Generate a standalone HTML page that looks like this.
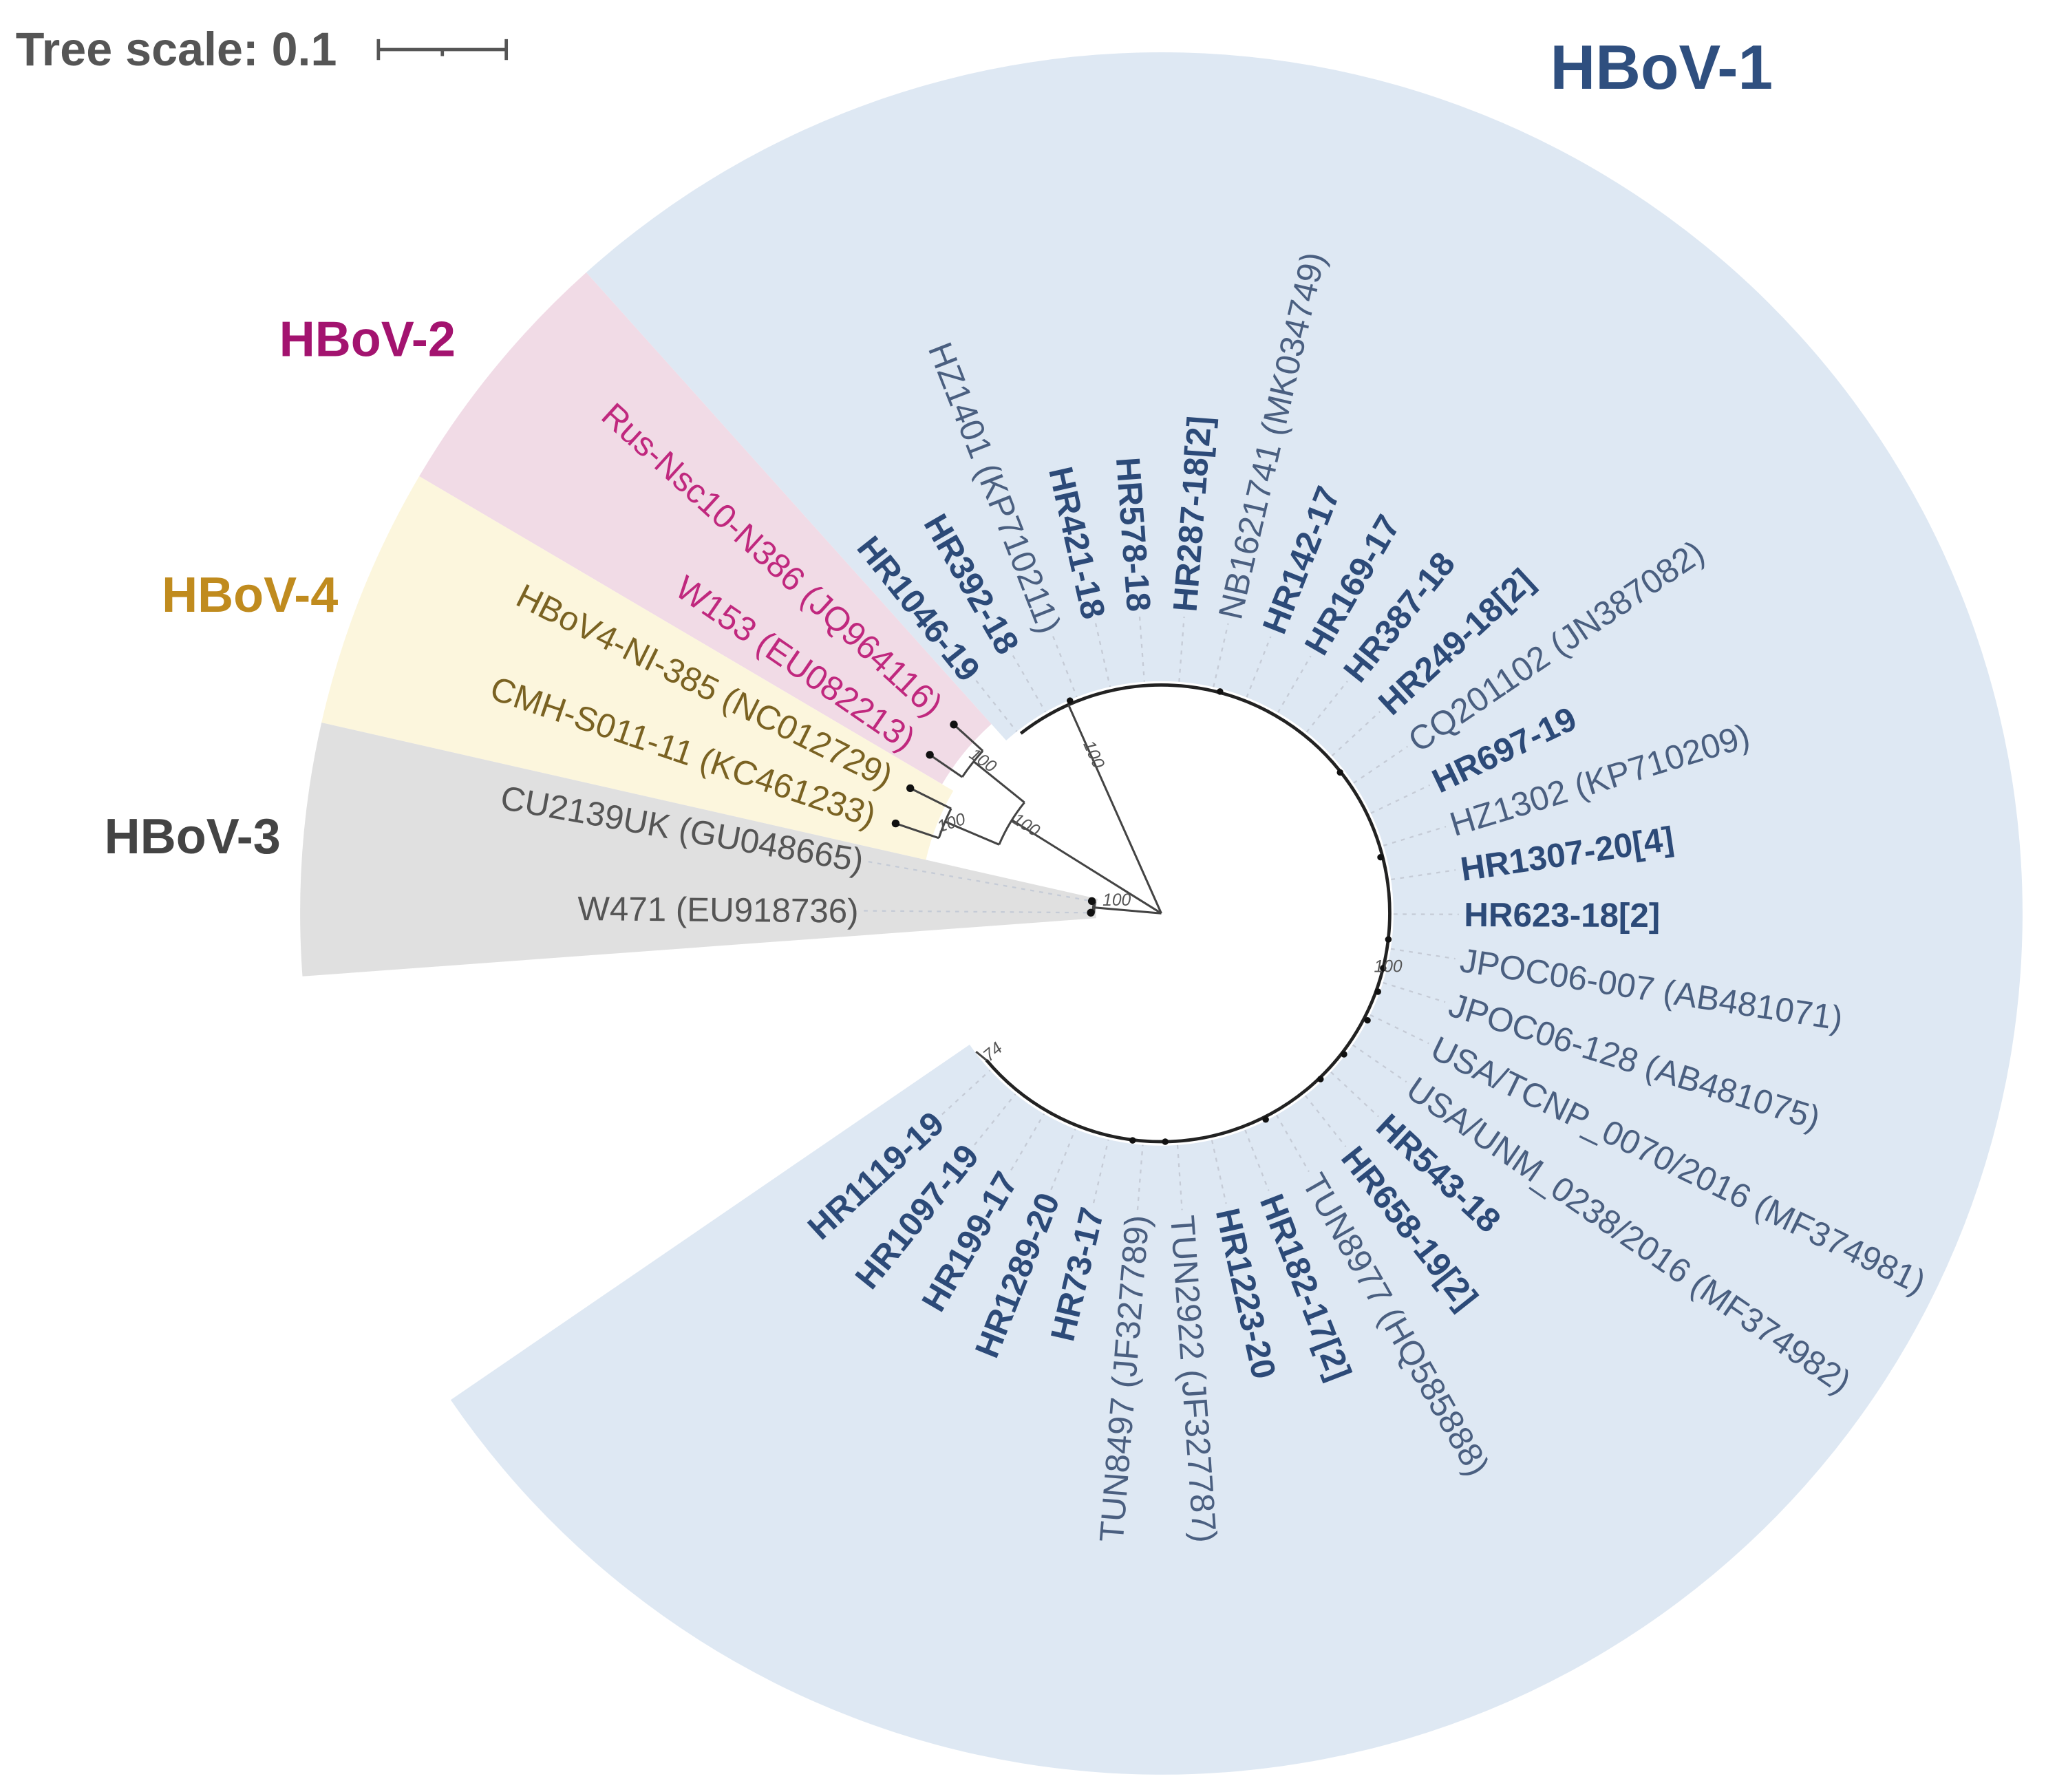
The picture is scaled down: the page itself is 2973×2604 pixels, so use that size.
<!DOCTYPE html>
<html><head><meta charset="utf-8"><style>
html,body{margin:0;padding:0;background:#fff;}
svg{display:block;}
text{font-family:"Liberation Sans",Arial,sans-serif;}
.b{fill:#2c4a78;font-weight:bold;font-size:26px;}
.n{fill:#4a5f80;font-size:26px;}
.p{fill:#c0287e;font-size:26px;}
.y{fill:#7a6222;font-size:26px;}
.g{fill:#555;font-size:26px;}
.d{stroke:#c5cbd6;stroke-width:1.2;stroke-dasharray:3 4;}
.bs{font-size:13px;fill:#555;font-style:italic;}
</style></head><body>
<svg width="2973" height="2604" viewBox="0 0 1568 1373.4" preserveAspectRatio="none" xmlns="http://www.w3.org/2000/svg">
<rect width="1568" height="1374" fill="#fff"/>
<path d="M449.3,208.8 A660,660 0 1 1 345.4,1072.9 L743.1,800.6 A178,178 0 1 0 771.1,567.5 Z" fill="#dee8f3"/>
<path d="M321.3,365 A660,660 0 0 1 449.3,208.8 L759.8,554.9 A195,195 0 0 0 722.0,601.0 Z" fill="#f1dbe6"/>
<path d="M246.4,553.8 A660,660 0 0 1 321.3,365 L730.6,606.1 A185,185 0 0 0 709.6,659.0 Z" fill="#fcf6dd"/>
<path d="M231.8,748.3 A660,660 0 0 1 246.4,553.8 L841.2,688.9 A50,50 0 0 0 840.1,703.7 Z" fill="#e0e0e0"/>

<text x="12" y="50" font-size="36" font-weight="bold" fill="#555">Tree scale: 0.1</text>
<g stroke="#555" stroke-width="2.5"><line x1="290" y1="38" x2="388" y2="38"/><line x1="290" y1="30" x2="290" y2="46"/><line x1="388" y1="30" x2="388" y2="46"/><line x1="339" y1="38" x2="339" y2="43"/></g>
<text x="1188" y="68" font-size="48" font-weight="bold" fill="#2f4f7f">HBoV-1</text>
<text x="214" y="273" font-size="38" font-weight="bold" fill="#a3136f">HBoV-2</text>
<text x="124" y="469" font-size="38" font-weight="bold" fill="#c08b1e">HBoV-4</text>
<text x="80" y="654" font-size="38" font-weight="bold" fill="#444">HBoV-3</text>

<g stroke="#444" stroke-width="1.6" fill="none">
<path d="M782.3,562.1 A175,175 0 1 1 756.0,812.5" stroke="#222" stroke-width="2.5"/>
<line x1="890" y1="700" x2="818.8" y2="540.1"/>
<line x1="890" y1="700" x2="775.5" y2="628.5"/>
<path d="M765.7,647.3 A135,135 0 0 1 785.1,615.0"/>
<line x1="785.1" y1="615.0" x2="746.2" y2="583.6"/>
<path d="M737.4,595.5 A185,185 0 0 1 753.2,575.5"/>
<line x1="737.4" y1="595.5" x2="712.6" y2="578.5"/>
<line x1="753.2" y1="575.5" x2="731.0" y2="555.3"/>
<line x1="765.7" y1="647.3" x2="724.3" y2="629.7"/>
<path d="M719.5,642.3 A180,180 0 0 1 728.9,619.7"/>
<line x1="719.5" y1="642.3" x2="686.4" y2="631.1"/>
<line x1="728.9" y1="619.7" x2="697.6" y2="604.1"/>
<line x1="890" y1="700" x2="838.2" y2="695.5"/>
<path d="M838.0,699.5 A52,52 0 0 1 838.8,691.0" stroke-width="2.5"/>
<line x1="756" y1="812.5" x2="748" y2="806"/>
</g>
<g fill="#111">
<circle cx="712.6" cy="578.5" r="3"/><circle cx="731.0" cy="555.3" r="3"/>
<circle cx="686.4" cy="631.1" r="3"/><circle cx="697.6" cy="604.1" r="3"/>
<circle cx="836.0" cy="699.5" r="3"/><circle cx="836.8" cy="690.6" r="3"/>
<circle cx="820" cy="537" r="2.5"/><circle cx="935" cy="530" r="2.5"/>
<circle cx="1027" cy="592" r="2.5"/><circle cx="1058" cy="657" r="2.5"/>
<circle cx="1064" cy="720" r="2.5"/><circle cx="1060" cy="742" r="2.5"/>
<circle cx="1056" cy="760" r="2.5"/><circle cx="1048" cy="782" r="2.5"/>
<circle cx="1030" cy="808" r="2.5"/><circle cx="1012" cy="827" r="2.5"/>
<circle cx="970" cy="858" r="2.5"/><circle cx="893" cy="875" r="2.5"/>
<circle cx="868" cy="874" r="2.5"/>
</g>
<text class="bs" transform="rotate(66 830 570)" x="830" y="570">100</text>
<text class="bs" transform="rotate(32 775 630)" x="775" y="630">100</text>
<text class="bs" transform="rotate(35 742 580)" x="742" y="580">100</text>
<text class="bs" transform="rotate(-18 720 638)" x="720" y="638">100</text>
<text class="bs" x="845" y="694">100</text>
<text class="bs" x="1053" y="745">100</text>
<text class="bs" transform="rotate(-40 758 814)" x="758" y="814">74</text>

<g transform="rotate(0.5 890 700)"><line class="d" x1="662" y1="700" x2="836" y2="700"/><text class="g" x="658" y="700" dy="0.35em" text-anchor="end">W471 (EU918736)</text></g>
<g transform="rotate(10 890 700)"><line class="d" x1="662" y1="700" x2="836" y2="700"/><text class="g" x="658" y="700" dy="0.35em" text-anchor="end">CU2139UK (GU048665)</text></g>
<g transform="rotate(18.7 890 700)"><text class="y" x="658" y="700" dy="0.35em" text-anchor="end">CMH-S011-11 (KC461233)</text></g>
<g transform="rotate(26.5 890 700)"><text class="y" x="658" y="700" dy="0.35em" text-anchor="end">HBoV4-NI-385 (NC012729)</text></g>
<g transform="rotate(34.4 890 700)"><text class="p" x="658" y="700" dy="0.35em" text-anchor="end">W153 (EU082213)</text></g>
<g transform="rotate(42.3 890 700)"><text class="p" x="658" y="700" dy="0.35em" text-anchor="end">Rus-Nsc10-N386 (JQ964116)</text></g>

<g transform="rotate(51.5 890 700)"><line class="d" x1="662" y1="700" x2="712" y2="700"/><text class="b" x="658" y="700" dy="0.35em" text-anchor="end">HR1046-19</text></g>
<g transform="rotate(60.08 890 700)"><line class="d" x1="662" y1="700" x2="712" y2="700"/><text class="b" x="658" y="700" dy="0.35em" text-anchor="end">HR392-18</text></g>
<g transform="rotate(68.66 890 700)"><line class="d" x1="662" y1="700" x2="712" y2="700"/><text class="n" x="658" y="700" dy="0.35em" text-anchor="end">HZ1401 (KP710211)</text></g>
<g transform="rotate(77.24 890 700)"><line class="d" x1="662" y1="700" x2="712" y2="700"/><text class="b" x="658" y="700" dy="0.35em" text-anchor="end">HR421-18</text></g>
<g transform="rotate(85.82 890 700)"><line class="d" x1="662" y1="700" x2="712" y2="700"/><text class="b" x="658" y="700" dy="0.35em" text-anchor="end">HR578-18</text></g>
<g transform="rotate(274.4 890 700)"><line class="d" x1="1068" y1="700" x2="1118" y2="700"/><text class="b" x="1122" y="700" dy="0.35em">HR287-18[2]</text></g>
<g transform="rotate(282.98 890 700)"><line class="d" x1="1068" y1="700" x2="1118" y2="700"/><text class="n" x="1122" y="700" dy="0.35em">NB1621741 (MK034749)</text></g>
<g transform="rotate(291.56 890 700)"><line class="d" x1="1068" y1="700" x2="1118" y2="700"/><text class="b" x="1122" y="700" dy="0.35em">HR142-17</text></g>
<g transform="rotate(300.14 890 700)"><line class="d" x1="1068" y1="700" x2="1118" y2="700"/><text class="b" x="1122" y="700" dy="0.35em">HR169-17</text></g>
<g transform="rotate(308.72 890 700)"><line class="d" x1="1068" y1="700" x2="1118" y2="700"/><text class="b" x="1122" y="700" dy="0.35em">HR387-18</text></g>
<g transform="rotate(317.3 890 700)"><line class="d" x1="1068" y1="700" x2="1118" y2="700"/><text class="b" x="1122" y="700" dy="0.35em">HR249-18[2]</text></g>
<g transform="rotate(325.88 890 700)"><line class="d" x1="1068" y1="700" x2="1118" y2="700"/><text class="n" x="1122" y="700" dy="0.35em">CQ201102 (JN387082)</text></g>
<g transform="rotate(334.46 890 700)"><line class="d" x1="1068" y1="700" x2="1118" y2="700"/><text class="b" x="1122" y="700" dy="0.35em">HR697-19</text></g>
<g transform="rotate(343.04 890 700)"><line class="d" x1="1068" y1="700" x2="1118" y2="700"/><text class="n" x="1122" y="700" dy="0.35em">HZ1302 (KP710209)</text></g>
<g transform="rotate(351.62 890 700)"><line class="d" x1="1068" y1="700" x2="1118" y2="700"/><text class="b" x="1122" y="700" dy="0.35em">HR1307-20[4]</text></g>
<g transform="rotate(0.2 890 700)"><line class="d" x1="1068" y1="700" x2="1118" y2="700"/><text class="b" x="1122" y="700" dy="0.35em">HR623-18[2]</text></g>
<g transform="rotate(8.78 890 700)"><line class="d" x1="1068" y1="700" x2="1118" y2="700"/><text class="n" x="1122" y="700" dy="0.35em">JPOC06-007 (AB481071)</text></g>
<g transform="rotate(17.36 890 700)"><line class="d" x1="1068" y1="700" x2="1118" y2="700"/><text class="n" x="1122" y="700" dy="0.35em">JPOC06-128 (AB481075)</text></g>
<g transform="rotate(25.94 890 700)"><line class="d" x1="1068" y1="700" x2="1118" y2="700"/><text class="n" x="1122" y="700" dy="0.35em">USA/TCNP_0070/2016 (MF374981)</text></g>
<g transform="rotate(34.52 890 700)"><line class="d" x1="1068" y1="700" x2="1118" y2="700"/><text class="n" x="1122" y="700" dy="0.35em">USA/UNM_0238/2016 (MF374982)</text></g>
<g transform="rotate(43.1 890 700)"><line class="d" x1="1068" y1="700" x2="1118" y2="700"/><text class="b" x="1122" y="700" dy="0.35em">HR543-18</text></g>
<g transform="rotate(51.68 890 700)"><line class="d" x1="1068" y1="700" x2="1118" y2="700"/><text class="b" x="1122" y="700" dy="0.35em">HR658-19[2]</text></g>
<g transform="rotate(60.26 890 700)"><line class="d" x1="1068" y1="700" x2="1118" y2="700"/><text class="n" x="1122" y="700" dy="0.35em">TUN8977 (HQ585888)</text></g>
<g transform="rotate(68.84 890 700)"><line class="d" x1="1068" y1="700" x2="1118" y2="700"/><text class="b" x="1122" y="700" dy="0.35em">HR182-17[2]</text></g>
<g transform="rotate(77.42 890 700)"><line class="d" x1="1068" y1="700" x2="1118" y2="700"/><text class="b" x="1122" y="700" dy="0.35em">HR1223-20</text></g>
<g transform="rotate(86 890 700)"><line class="d" x1="1068" y1="700" x2="1118" y2="700"/><text class="n" x="1122" y="700" dy="0.35em">TUN2922 (JF327787)</text></g>
<g transform="rotate(-85.42 890 700)"><line class="d" x1="662" y1="700" x2="712" y2="700"/><text class="n" x="658" y="700" dy="0.35em" text-anchor="end">TUN8497 (JF327789)</text></g>
<g transform="rotate(-76.84 890 700)"><line class="d" x1="662" y1="700" x2="712" y2="700"/><text class="b" x="658" y="700" dy="0.35em" text-anchor="end">HR73-17</text></g>
<g transform="rotate(-68.26 890 700)"><line class="d" x1="662" y1="700" x2="712" y2="700"/><text class="b" x="658" y="700" dy="0.35em" text-anchor="end">HR1289-20</text></g>
<g transform="rotate(-59.68 890 700)"><line class="d" x1="662" y1="700" x2="712" y2="700"/><text class="b" x="658" y="700" dy="0.35em" text-anchor="end">HR199-17</text></g>
<g transform="rotate(-51.1 890 700)"><line class="d" x1="662" y1="700" x2="712" y2="700"/><text class="b" x="658" y="700" dy="0.35em" text-anchor="end">HR1097-19</text></g>
<g transform="rotate(-42.52 890 700)"><line class="d" x1="662" y1="700" x2="712" y2="700"/><text class="b" x="658" y="700" dy="0.35em" text-anchor="end">HR1119-19</text></g>
</svg>
</body></html>
